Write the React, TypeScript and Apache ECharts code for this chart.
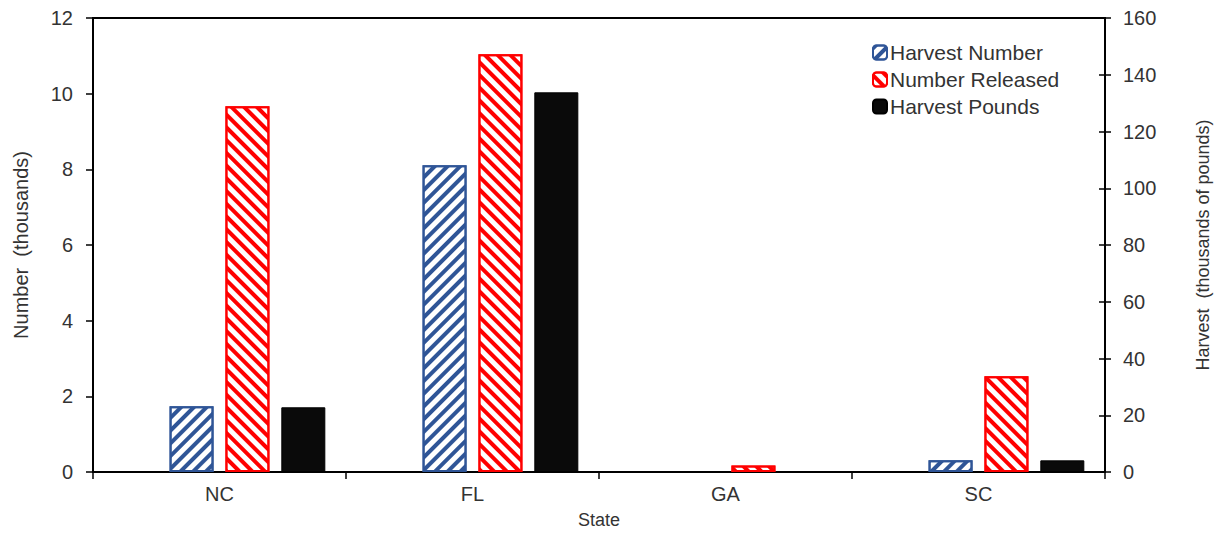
import React, { useEffect, useRef } from "react";
import * as echarts from "echarts";

const states = ["NC", "FL", "GA", "SC"];
const harvestNumber = [1.74, 8.11, 0, 0.31];
const numberReleased = [9.67, 11.04, 0.17, 2.53];
const harvestPounds = [22.8, 133.8, 0, 4.1];
const leftTicks = { min: 0, max: 12, interval: 2 };
const rightTicks = { min: 0, max: 160, interval: 20 };

const FONT = "Liberation Sans, Arial, sans-serif";
const TEXT = "#333";
const BLUE = "#2F5597";
const RED = "#FF0000";

const hideZero = (arr: number[]) => arr.map((v) => (v === 0 ? "-" : v));

export default function App() {
  const ref = useRef<HTMLDivElement>(null);
  useEffect(() => {
    if (!ref.current) return;
    const chart = echarts.init(ref.current, null, { renderer: "svg" });
    chart.setOption({
      animation: false,
      textStyle: { fontFamily: FONT, color: TEXT },
      grid: {
        left: 93,
        right: 115,
        top: 18,
        bottom: 63,
        show: true,
        borderColor: "#000",
        borderWidth: 2,
        backgroundColor: "transparent",
        outerBoundsMode: "none",
        containLabel: false,
      },
      legend: {
        orient: "vertical",
        left: 872,
        top: 42,
        padding: 0,
        itemWidth: 14,
        itemHeight: 14,
        itemGap: 6,
        data: ["Harvest Number", "Number Released", "Harvest Pounds"],
        textStyle: { fontFamily: FONT, fontSize: 21, lineHeight: 20, color: TEXT, padding: [0, 0, 0, -2] },
      },
      xAxis: {
        type: "category",
        data: states,
        name: "State",
        nameLocation: "middle",
        nameGap: 39,
        nameTextStyle: { fontSize: 18, color: TEXT, fontFamily: FONT },
        axisLine: { lineStyle: { color: "#000", width: 2 } },
        axisTick: { show: true, length: 7, lineStyle: { color: "#000", width: 1.5 } },
        axisLabel: { fontSize: 20, color: TEXT, margin: 12, fontFamily: FONT },
      },
      yAxis: [
        {
          type: "value",
          position: "left",
          ...leftTicks,
          name: "Number  (thousands)",
          nameLocation: "middle",
          nameRotate: 90,
          nameGap: 62,
          nameTextStyle: { fontSize: 20, color: TEXT, fontFamily: FONT },
          splitLine: { show: false },
          axisLine: { show: true, lineStyle: { color: "#000", width: 2 } },
          axisTick: { show: true, length: 7, lineStyle: { color: "#000", width: 1.5 } },
          axisLabel: { fontSize: 20, color: TEXT, margin: 20, fontFamily: FONT },
        },
        {
          type: "value",
          position: "right",
          ...rightTicks,
          name: "Harvest  (thousands of pounds)",
          nameLocation: "middle",
          nameRotate: 90,
          nameGap: 89,
          nameTextStyle: { fontSize: 18, color: TEXT, fontFamily: FONT },
          splitLine: { show: false },
          axisLine: { show: true, lineStyle: { color: "#000", width: 2 } },
          axisTick: { show: true, length: 6, lineStyle: { color: "#000", width: 1.5 } },
          axisLabel: { fontSize: 20, color: TEXT, margin: 18, fontFamily: FONT },
        },
        {
          type: "value",
          position: "right",
          ...rightTicks,
          splitLine: { show: false },
          axisLine: { show: false },
          axisTick: { show: true, inside: true, length: 6, lineStyle: { color: "#000", width: 1.5 } },
          axisLabel: { show: false },
        },
      ],
      series: [
        {
          name: "",
          type: "bar",
          data: [],
          barWidth: 44,
          barGap: "27%",
        },
        {
          name: "Harvest Number",
          type: "bar",
          yAxisIndex: 0,
          data: hideZero(harvestNumber),
          barWidth: 44,
          barGap: "27%",
          itemStyle: {
            color: "#fff",
            borderColor: BLUE,
            borderWidth: 2,
            decal: {
              symbol: "rect",
              symbolSize: 1,
              color: BLUE,
              dashArrayX: [1, 0],
              dashArrayY: [4, 5],
              rotation: -Math.PI / 4,
            },
          },
        },
        {
          name: "Number Released",
          type: "bar",
          yAxisIndex: 0,
          data: hideZero(numberReleased),
          barWidth: 44,
          barGap: "27%",
          itemStyle: {
            color: "#fff",
            borderColor: RED,
            borderWidth: 2,
            decal: {
              symbol: "rect",
              symbolSize: 1,
              color: RED,
              dashArrayX: [1, 0],
              dashArrayY: [4, 5],
              rotation: Math.PI / 4,
            },
          },
        },
        {
          name: "Harvest Pounds",
          type: "bar",
          yAxisIndex: 1,
          data: hideZero(harvestPounds),
          barWidth: 44,
          barGap: "27%",
          itemStyle: { color: "#0a0a0a", borderColor: "#000", borderWidth: 1 },
        },
      ],
    });
    return () => chart.dispose();
  }, []);
  return <div ref={ref} style={{ width: 1220, height: 535, position: "absolute", left: 0, top: 0 }} />;
}
